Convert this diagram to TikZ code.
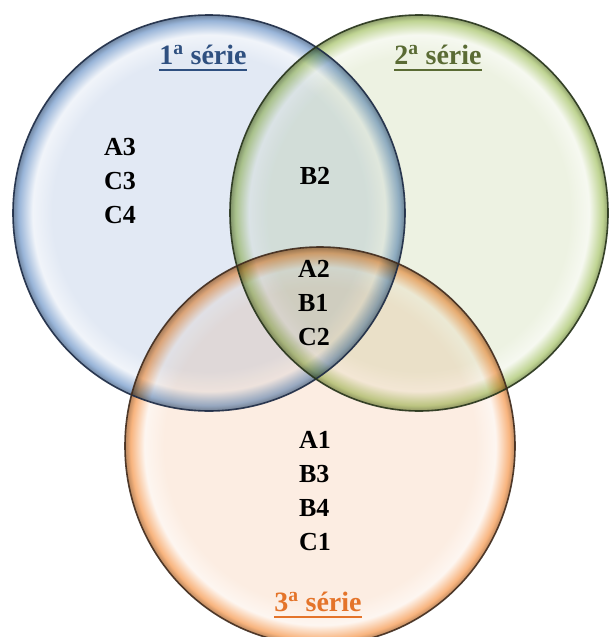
\documentclass[tikz,border=0pt]{standalone}
\usepackage{fontspec}
\setmainfont{Liberation Serif}

\definecolor{bluelight}{HTML}{E2E9F4}
\definecolor{bluemid}{HTML}{98B4D8}
\definecolor{bluerim}{HTML}{1C2A44}
\definecolor{bluetitle}{HTML}{2F5080}
\definecolor{greenlight}{HTML}{EDF2E2}
\definecolor{greenmid}{HTML}{BFD492}
\definecolor{greenrim}{HTML}{26331A}
\definecolor{greentitle}{HTML}{5A6B34}
\definecolor{orangelight}{HTML}{FCEDE2}
\definecolor{orangemid}{HTML}{F8B47E}
\definecolor{orangerim}{HTML}{3F2A1C}
\definecolor{orangetitle}{HTML}{E4742A}

\pgfdeclareradialshading{blueglass}{\pgfpointorigin}{color(0bp)=(bluelight); color(20bp)=(bluelight); color(22.5bp)=(bluelight!50!white); color(24.3bp)=(bluemid); color(25bp)=(bluemid!75!black); color(50bp)=(bluemid!75!black)}
\pgfdeclareradialshading{greenglass}{\pgfpointorigin}{color(0bp)=(greenlight); color(20bp)=(greenlight); color(22.5bp)=(greenlight!50!white); color(24.3bp)=(greenmid); color(25bp)=(greenmid!75!black); color(50bp)=(greenmid!75!black)}
\pgfdeclareradialshading{orangeglass}{\pgfpointorigin}{color(0bp)=(orangelight); color(20bp)=(orangelight); color(22.5bp)=(orangelight!50!white); color(24.3bp)=(orangemid); color(25bp)=(orangemid!75!black); color(50bp)=(orangemid!75!black)}

\begin{document}
\begin{tikzpicture}[x=1pt, y=-1pt,
    setname/.style={font=\fontsize{28}{30}\selectfont\bfseries, inner sep=0pt, anchor=base},
    members/.style={font=\fontsize{26}{34}\selectfont\bfseries, align=left, inner sep=0pt},
    rim/.style={line width=1.6pt, draw opacity=0.9}]
    \useasboundingbox (0,0) rectangle (610,637);

    \coordinate (S1) at (209,213);
    \coordinate (S2) at (419,213);
    \coordinate (S3) at (320,446);

    % glassy discs
    \begin{scope}[blend group=multiply]
      \shade[shading=blueglass] (S1) ellipse [x radius=196, y radius=198];
      \shade[shading=greenglass] (S2) ellipse [x radius=189, y radius=198];
      \shade[shading=orangeglass] (S3) ellipse [x radius=195, y radius=199];
    \end{scope}

    \draw[rim, bluerim] (S1) ellipse [x radius=196, y radius=198];
    \draw[rim, greenrim] (S2) ellipse [x radius=189, y radius=198];
    \draw[rim, orangerim] (S3) ellipse [x radius=195, y radius=199];

    % set names
    \node[setname, text=bluetitle] (N1) at (203,64) {1\textsuperscript{a} série};
    \node[setname, text=greentitle] (N2) at (438,64) {2\textsuperscript{a} série};
    \node[setname, text=orangetitle] (N3) at (318,611) {3\textsuperscript{a} série};
    \draw[bluetitle, line width=1.8pt] ([yshift=-6pt]N1.base west) -- ([yshift=-6pt]N1.base east);
    \draw[greentitle, line width=1.8pt] ([yshift=-6pt]N2.base west) -- ([yshift=-6pt]N2.base east);
    \draw[orangetitle, line width=1.8pt] ([yshift=-6pt]N3.base west) -- ([yshift=-6pt]N3.base east);

    % members
    \node[members] (only1) at (120,181) {A3\\C3\\C4};
    \node[members] (in12) at (315,176) {B2};
    \node[members] (in123) at (314,303) {A2\\B1\\C2};
    \node[members] (only3) at (315,491) {A1\\B3\\B4\\C1};
\end{tikzpicture}
\end{document}
